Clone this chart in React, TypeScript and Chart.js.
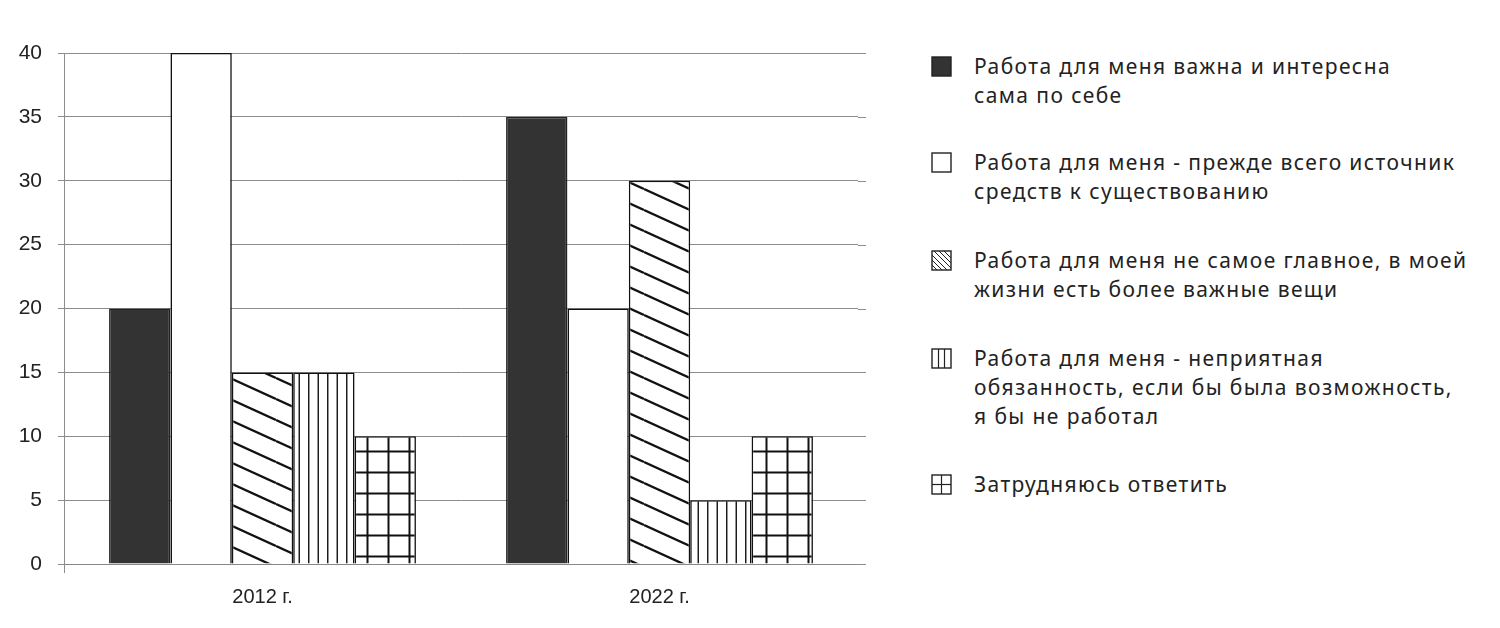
import React, { useEffect, useRef } from "react";
import { Chart, registerables } from "chart.js";

Chart.register(...registerables);

const categories = ["2012 г.", "2022 г."];
const seriesLabels = [
  "Работа для меня важна и интересна\nсама по себе",
  "Работа для меня - прежде всего источник\nсредств к существованию",
  "Работа для меня не самое главное, в моей\nжизни есть более важные вещи",
  "Работа для меня - неприятная\nобязанность, если бы была возможность,\nя бы не работал",
  "Затрудняюсь ответить",
];
const interesting = [20, 35];
const livelihood = [40, 20];
const notMain = [15, 30];
const unpleasant = [15, 5];
const hardToSay = [10, 10];
const yMin = 0;
const yMax = 40;
const yStep = 5;

const legendTops = [66, 162, 260, 358, 484];

function makeTile(w: number, h: number, draw: (c: CanvasRenderingContext2D) => void): CanvasPattern | string {
  const cv = document.createElement("canvas");
  cv.width = w;
  cv.height = h;
  const c = cv.getContext("2d");
  if (!c) return "#fff";
  c.fillStyle = "#ffffff";
  c.fillRect(0, 0, w, h);
  c.strokeStyle = "#111";
  draw(c);
  const ctx = document.createElement("canvas").getContext("2d");
  return (ctx && ctx.createPattern(cv, "repeat")) || "#fff";
}

function diagPattern() {
  return makeTile(46, 21, (c) => {
    c.lineWidth = 2.3;
    for (const off of [-21, 0, 21]) {
      c.beginPath();
      c.moveTo(0, off);
      c.lineTo(46, off + 21);
      c.stroke();
    }
  });
}

function vertPattern() {
  return makeTile(19, 10, (c) => {
    c.lineWidth = 1.4;
    for (const x of [4.75, 14.25]) {
      c.beginPath();
      c.moveTo(x, 0);
      c.lineTo(x, 10);
      c.stroke();
    }
  });
}

function gridPattern() {
  return makeTile(21, 21, (c) => {
    c.lineWidth = 2;
    c.beginPath();
    c.moveTo(10.5, 0);
    c.lineTo(10.5, 21);
    c.moveTo(0, 10.5);
    c.lineTo(21, 10.5);
    c.stroke();
  });
}

const gridExtend = {
  id: "gridExtend",
  beforeDatasetsDraw(chart: any) {
    const y = chart.scales.y;
    const ctx = chart.ctx;
    ctx.save();
    ctx.strokeStyle = "#8c8c8c";
    ctx.lineWidth = 1;
    y.ticks.forEach((_t: any, i: number) => {
      const py = Math.round(y.getPixelForTick(i)) + 0.5;
      ctx.beginPath();
      ctx.moveTo(chart.chartArea.right, py);
      ctx.lineTo(chart.chartArea.right + 8, py);
      ctx.stroke();
    });
    ctx.restore();
  },
};

function LegendIcon({ kind }: { kind: number }) {
  const s = 19;
  const stroke = "#222";
  let inner: React.ReactNode = null;
  let fill = "#fff";
  if (kind === 0) fill = "#333";
  if (kind === 2) {
    inner = (
      <g stroke={stroke} strokeWidth={1}>
        <line x1={0} y1={4} x2={15} y2={19} />
        <line x1={0} y1={9} x2={10} y2={19} />
        <line x1={0} y1={14} x2={5} y2={19} />
        <line x1={2} y1={0} x2={19} y2={17} />
        <line x1={7} y1={0} x2={19} y2={12} />
        <line x1={12} y1={0} x2={19} y2={7} />
      </g>
    );
  }
  if (kind === 3) {
    inner = (
      <g stroke={stroke} strokeWidth={1.2}>
        <line x1={6.5} y1={0} x2={6.5} y2={19} />
        <line x1={12.5} y1={0} x2={12.5} y2={19} />
      </g>
    );
  }
  if (kind === 4) {
    inner = (
      <g stroke={stroke} strokeWidth={1.2}>
        <line x1={9.5} y1={0} x2={9.5} y2={19} />
        <line x1={0} y1={9.5} x2={19} y2={9.5} />
      </g>
    );
  }
  return (
    <svg width={s + 2} height={s + 2} style={{ display: "block" }}>
      <g transform="translate(1,1)">
        <rect x={0} y={0} width={s} height={s} fill={fill} />
        {inner}
        <rect x={0} y={0} width={s} height={s} fill="none" stroke={stroke} strokeWidth={1.4} />
      </g>
    </svg>
  );
}

export default function App() {
  const ref = useRef<HTMLCanvasElement | null>(null);

  useEffect(() => {
    if (!ref.current) return;
    const base = {
      borderColor: "#111",
      borderWidth: 1.6,
      barPercentage: 1,
      categoryPercentage: 0.773,
    };
    const chart = new Chart(ref.current, {
      type: "bar",
      data: {
        labels: categories,
        datasets: [
          { ...base, label: seriesLabels[0], data: interesting, backgroundColor: "#333333", borderColor: "#222" },
          { ...base, label: seriesLabels[1], data: livelihood, backgroundColor: "#ffffff" },
          { ...base, label: seriesLabels[2], data: notMain, backgroundColor: diagPattern() as any },
          { ...base, label: seriesLabels[3], data: unpleasant, backgroundColor: vertPattern() as any },
          { ...base, label: seriesLabels[4], data: hardToSay, backgroundColor: gridPattern() as any },
        ],
      },
      options: {
        animation: false,
        responsive: false,
        maintainAspectRatio: false,
        layout: { padding: { top: 53, right: 22, left: 0, bottom: 0 } },
        plugins: { legend: { display: false }, tooltip: { enabled: false } },
        scales: {
          x: {
            grid: {
              display: true,
              drawOnChartArea: false,
              tickLength: 9,
              color: (c: any) => (c.index === 0 ? "#8c8c8c" : "rgba(0,0,0,0)"),
            },
            border: { color: "#888", width: 1 },
            ticks: {
              font: { family: "Liberation Sans", size: 20 },
              color: "#222",
              padding: 12,
            },
            afterFit: (s: any) => {
              s.height = 64;
            },
          },
          y: {
            min: yMin,
            max: yMax,
            ticks: {
              stepSize: yStep,
              font: { family: "Liberation Sans", size: 21 },
              color: "#222",
              padding: 16,
            },
            grid: { color: "#8c8c8c", tickLength: 6, lineWidth: 1 },
            border: { color: "#8c8c8c", width: 1 },
            afterFit: (s: any) => {
              s.width = 64;
            },
          },
        },
      },
      plugins: [gridExtend],
    });
    return () => chart.destroy();
  }, []);

  return (
    <div style={{ position: "absolute", left: 0, top: 0, width: 1500, height: 628, background: "#fff" }}>
      <canvas ref={ref} width={880} height={628} style={{ position: "absolute", left: 0, top: 0, width: 880, height: 628 }} />
      {seriesLabels.map((lab, i) => (
        <div key={i}>
          <div style={{ position: "absolute", left: 931, top: legendTops[i] - 10.5 }}>
            <LegendIcon kind={i} />
          </div>
          <div
            style={{
              position: "absolute",
              left: 974,
              top: legendTops[i] - 14.5,
              fontFamily: "'Noto Sans', sans-serif",
              fontSize: 21,
              letterSpacing: 1.4,
              lineHeight: "29px",
              color: "#222",
              whiteSpace: "pre",
            }}
          >
            {lab}
          </div>
        </div>
      ))}
    </div>
  );
}
